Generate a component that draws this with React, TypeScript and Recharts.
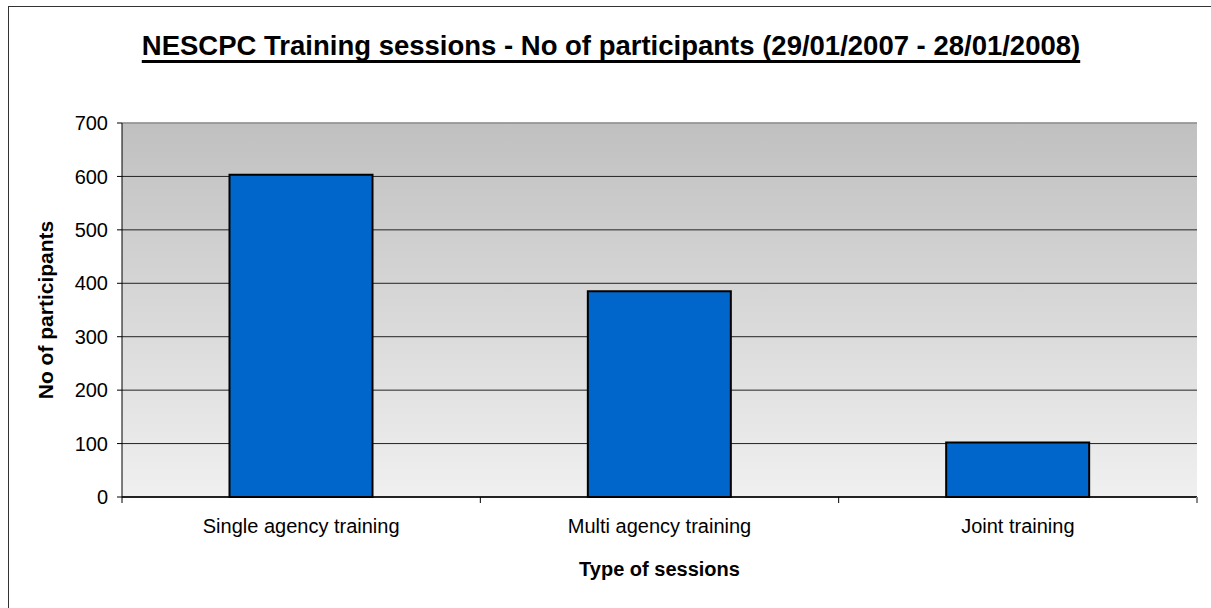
import { BarChart, Bar, XAxis, YAxis, CartesianGrid, ReferenceLine, Label } from "recharts";

const categories = ["Single agency training", "Multi agency training", "Joint training"];
const participants = [603, 385, 102];
const yTicks = [0, 100, 200, 300, 400, 500, 600, 700];

const data = categories.map((name, i) => ({ name, value: participants[i] }));

const FONT = "Arial, 'Liberation Sans', sans-serif";
const X_TICK_SIZE = 6;
const X_TICK_MARGIN = 16;

function XTick(props: any) {
  const { x, y, payload, width, visibleTicksCount, index } = props;
  const bw = width / visibleTicksCount;
  const axisY = y - X_TICK_SIZE - X_TICK_MARGIN;
  const left = x - bw / 2;
  return (
    <g>
      <line x1={left} x2={left} y1={axisY} y2={axisY + 6} stroke="#000" />
      {index === visibleTicksCount - 1 && (
        <line x1={left + bw} x2={left + bw} y1={axisY} y2={axisY + 6} stroke="#888" strokeWidth={2} />
      )}
      <text x={x} y={y} dy="0.71em" textAnchor="middle" fontSize={20} fill="#000" fontFamily={FONT}>
        {payload.value}
      </text>
    </g>
  );
}

function YTitle({ viewBox }: any) {
  const cx = viewBox.x + 45;
  const cy = viewBox.y + viewBox.height / 2;
  return (
    <text
      x={cx}
      y={cy}
      transform={`rotate(-90 ${cx} ${cy})`}
      textAnchor="middle"
      dominantBaseline="central"
      fontSize={21}
      fontWeight="bold"
      fontFamily={FONT}
      fill="#000"
    >
      No of participants
    </text>
  );
}

export default function App() {
  return (
    <div
      style={{
        position: "fixed",
        left: 0,
        top: 0,
        width: 1211,
        height: 608,
        overflow: "hidden",
        background: "#fff",
        fontFamily: FONT,
      }}
    >
      <div
        style={{
          position: "absolute",
          left: 8,
          top: 6,
          width: 1240,
          height: 640,
          borderLeft: "1px solid #333",
          borderTop: "1px solid #333",
        }}
      />
      <div
        style={{
          position: "absolute",
          left: 611,
          top: 32,
          transform: "translateX(-50%)",
          whiteSpace: "nowrap",
          fontSize: 27.5,
          lineHeight: "28px",
          fontWeight: "bold",
          textDecoration: "underline",
          textDecorationThickness: 3,
          textUnderlineOffset: 5,
          textDecorationSkipInk: "none",
          color: "#000",
        }}
      >
        NESCPC Training sessions - No of participants (29/01/2007 - 28/01/2008)
      </div>
      <div style={{ position: "absolute", left: 0, top: 0 }}>
        <BarChart
          width={1211}
          height={608}
          data={data}
          margin={{ top: 123, right: 14, bottom: 0, left: 0 }}
          barCategoryGap="30%"
        >
          <defs>
            <linearGradient id="plotBg" x1="0" y1="0" x2="0" y2="1">
              <stop offset="0%" stopColor="#c0c0c0" />
              <stop offset="100%" stopColor="#f0f0f0" />
            </linearGradient>
          </defs>
          <CartesianGrid vertical={false} stroke="#222" fill="url(#plotBg)" fillOpacity={1} />
          <XAxis
            dataKey="name"
            height={111}
            axisLine={{ stroke: "#000", strokeWidth: 1.5 }}
            tickLine={false}
            tickSize={X_TICK_SIZE}
            tickMargin={X_TICK_MARGIN}
            tick={<XTick />}
            interval={0}
          >
            <Label
              value="Type of sessions"
              position="insideTop"
              offset={65}
              fontSize={20}
              fontWeight="bold"
              fontFamily={FONT}
              fill="#000"
            />
          </XAxis>
          <YAxis
            width={122}
            domain={[0, 700]}
            ticks={yTicks}
            interval={0}
            axisLine={{ stroke: "#000" }}
            tickLine={{ stroke: "#000" }}
            tickSize={5}
            tickMargin={9}
            tick={{ fill: "#000", fontSize: 20, fontFamily: FONT }}
            label={<YTitle />}
          />
          <YAxis
            yAxisId="right"
            orientation="right"
            width={0}
            tick={false}
            tickLine={false}
            axisLine={{ stroke: "#888", strokeWidth: 2 }}
          />
          <ReferenceLine y={700} stroke="#a8a8a8" strokeWidth={1.5} />
          <Bar
            dataKey="value"
            fill="#0066CC"
            stroke="#000"
            strokeWidth={2}
            isAnimationActive={false}
          />
        </BarChart>
      </div>
    </div>
  );
}
